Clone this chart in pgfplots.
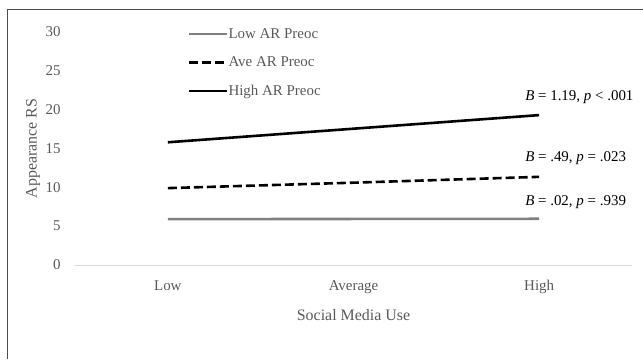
\documentclass[border=0pt]{standalone}
\usepackage{fontspec}
\setmainfont{Liberation Serif}
\usepackage{pgfplots}
\pgfplotsset{compat=1.18}
\definecolor{txtgray}{HTML}{595959}
\definecolor{lowgray}{HTML}{808080}
\definecolor{basegray}{HTML}{D9D9D9}
\begin{document}
\begin{tikzpicture}[x=1bp,y=1bp]
\useasboundingbox (0,0) rectangle (643,359);
\draw[color=black!70, line width=1bp] (7,0) -- (7,349) -- (643,349);
\begin{axis}[
  at={(75bp,94bp)}, anchor=south west,
  scale only axis, width=557bp, height=233bp,
  xmin=-0.5, xmax=2.5, ymin=0, ymax=30,
  axis x line*=bottom, axis y line*=left,
  x axis line style={basegray, line width=1bp, -},
  y axis line style={draw=none},
  xtick={0,1,2}, xticklabels={Low,Average,High},
  ytick={0,5,...,30},
  major tick length=0pt,
  tick label style={font=\fontsize{15}{18}\selectfont, text=txtgray},
  xticklabel style={yshift=-12bp},
  yticklabel style={xshift=-11bp},
  /pgf/number format/assume math mode=true,
  clip=false,
  xlabel={Social Media Use},
  xlabel style={font=\fontsize{16}{19}\selectfont, text=txtgray, yshift=-8bp},
  legend style={draw=none, fill=none, at={(rel axis cs:0.197,1.03)}, anchor=north west,
    font=\fontsize{15}{18}\selectfont, text=txtgray, row sep=15bp,
    nodes={inner sep=1bp}},
  legend cell align=left,
  legend image code/.code={\draw[#1] (0bp,0bp) -- (38bp,0bp);},
]
\addplot[lowgray, line width=2.6bp] coordinates {(0,5.9) (1,5.93) (2,5.95)};
\addlegendentry{\hspace{-1bp}Low AR Preoc}
\addplot[black, line width=2.6bp, dash pattern=on 9bp off 4bp] coordinates {(0,9.9) (1,10.6) (2,11.35)};
\addlegendentry{\hspace{-1bp}Ave AR Preoc}
\addplot[black, line width=2.6bp] coordinates {(0,15.8) (1,17.55) (2,19.3)};
\addlegendentry{\hspace{-1bp}High AR Preoc}
\node[anchor=west, inner sep=0pt, font=\fontsize{15}{18}\selectfont] at (axis cs:1.924,21.6) {\textit{B} = 1.19, \textit{p} < .001};
\node[anchor=west, inner sep=0pt, font=\fontsize{15}{18}\selectfont] at (axis cs:1.924,13.8) {\textit{B} = .49, \textit{p} = .023};
\node[anchor=west, inner sep=0pt, font=\fontsize{15}{18}\selectfont] at (axis cs:1.924,8.1) {\textit{B} = .02, \textit{p} = .939};
\end{axis}
\node[rotate=90, font=\fontsize{16}{19}\selectfont, text=txtgray] at (33,210.5) {Appearance RS};
\end{tikzpicture}
\end{document}
